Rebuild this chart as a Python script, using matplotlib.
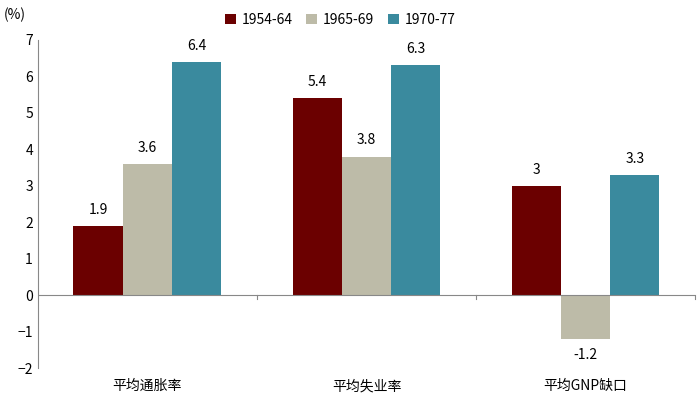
import matplotlib
matplotlib.use("Agg")
import matplotlib.pyplot as plt
import numpy as np

plt.rcParams['font.family'] = ['Noto Sans CJK SC', 'DejaVu Sans']

categories = ["平均通胀率", "平均失业率", "平均GNP缺口"]
series_names = ["1954-64", "1965-69", "1970-77"]
v1954 = [1.9, 5.4, 3.0]
v1965 = [3.6, 3.8, -1.2]
v1970 = [6.4, 6.3, 3.3]
labels1954 = ["1.9", "5.4", "3"]
labels1965 = ["3.6", "3.8", "-1.2"]
labels1970 = ["6.4", "6.3", "3.3"]
colors = ["#6B0000", "#BDBBA8", "#3A8A9E"]

fig = plt.figure(figsize=(7, 4.17), dpi=100)
ax = fig.add_axes([0.054, 0.1175, 0.939, 0.787])
x = np.arange(len(categories))
w = 0.225
for i, (vals, labs, name) in enumerate(zip([v1954, v1965, v1970], [labels1954, labels1965, labels1970], series_names)):
    pos = x + (i - 1) * w
    ax.bar(pos, vals, w, color=colors[i], label=name)
    for p, v, l in zip(pos, vals, labs):
        off = 0.25 if v >= 0 else -0.25
        ax.text(p, v + off, l, ha='center', va='bottom' if v >= 0 else 'top', fontsize=10)

ax.set_ylim(-2, 7)
ax.set_xlim(-0.5, 2.5)
ax.set_yticks(range(-2, 8))
ax.tick_params(axis='y', labelsize=10, length=0)
ax.set_xticks(x)
ax.set_xticklabels(categories, fontsize=10)
ax.tick_params(axis='x', length=0, pad=8)
for s in ['top', 'right', 'bottom']:
    ax.spines[s].set_visible(False)
ax.spines['left'].set_color('#888888')
ax.axhline(0, color='#888888', lw=0.8)
for b in [0.5, 1.5, 2.5]:
    ax.plot([b, b], [0, -0.12], color='#888888', lw=0.8, clip_on=False)
fig.text(0.005, 0.955, "(%)", fontsize=10)
ax.legend(loc='upper center', bbox_to_anchor=(0.46, 1.12), ncol=3, frameon=False,
          fontsize=10, handlelength=0.8, handleheight=0.8, columnspacing=1.0, handletextpad=0.4)
fig.savefig("out.png", dpi=100)
